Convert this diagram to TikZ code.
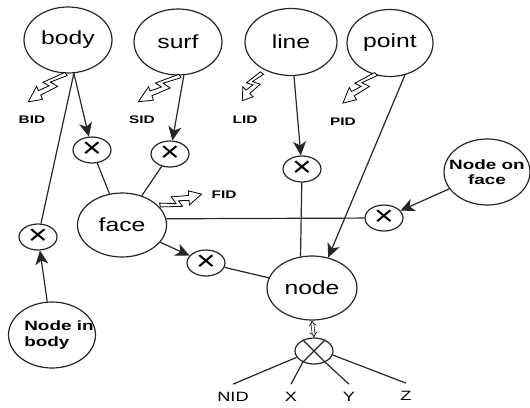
\documentclass[tikz,border=0pt]{standalone}
\usepackage{fontspec}
\setmainfont{Liberation Sans}
\usepackage{graphicx}
\usetikzlibrary{arrows.meta,shapes.geometric}
\newcommand{\sx}[2][1.4]{\scalebox{#1}[1]{#2}}
\tikzset{
  big/.style={ellipse,draw=black!85,line width=1.2pt,inner sep=0pt,minimum width=88pt,minimum height=66pt,font=\fontsize{19}{21}\selectfont},
  boldtxt/.style={font=\fontsize{13.5}{15.5}\selectfont\bfseries},
  xc/.style={ellipse,draw=black!85,line width=1.2pt,inner sep=0pt,minimum width=38pt,minimum height=26pt,font=\fontsize{28}{28}\selectfont},
  idl/.style={font=\fontsize{11}{12}\selectfont\bfseries,inner sep=1pt},
  axl/.style={font=\fontsize{13.5}{14}\selectfont,inner xsep=1pt,inner ysep=8pt},
  ln/.style={line width=1.2pt,draw=black!85},
  arr/.style={ln,-{Stealth[length=14pt,width=13pt,inset=4pt]}},
  dbl/.style={line width=0.6pt,double distance=2.2pt,{Implies}-{Implies}},
  pics/bolt/.style={code={\draw[line width=0.8pt,fill=white,line join=miter]
    (0,2) -- (0.50*#1,7) -- (0.44*#1,0.5) -- (0.68*#1,3) -- (0.66*#1,7.5) -- (#1,0)
    -- (0.72*#1,-6.5) -- (0.70*#1,-2) -- (0.30*#1,-5) -- (0.37*#1,2.8) -- (0,-2) -- cycle;}}
}
\begin{document}
\begin{tikzpicture}[x=1pt,y=-1pt]
\useasboundingbox (0,0) rectangle (530,407);
% main ellipses
\node[big] (body) at (68,40) {\sx[1.3]{body}};
\node[big] (surf) at (178,42) {\sx[1.3]{surf}};
\node[big,minimum width=92pt,minimum height=67pt] (line) at (291,42) {\sx[1.3]{line}};
\node[big,minimum width=86pt,minimum height=67pt] (point) at (390,43) {\sx[1.3]{point}};
\node[big,minimum width=89pt,minimum height=64pt] (face) at (122,225) {\sx[1.3]{face}};
\node[big,minimum width=90pt,minimum height=64pt] (nd) at (312,288) {\sx[1.3]{node}};
\node[big,minimum width=86pt,label={[boldtxt,align=center]center:\sx{Node on}\\\sx{face}}] (nof) at (487,172) {};
\node[big,minimum width=87pt,label={[boldtxt,align=left,xshift=7pt]center:\sx{Node in}\\\sx{body}}] (nib) at (52,335) {};
% cross circles
\node[xc] (c1) at (92,150) {\sx[1.2]{×}};
\node[xc] (c2) at (170,154) {\sx[1.2]{×}};
\node[xc] (c3) at (302,169) {\sx[1.2]{×}};
\node[xc] (c4) at (38,237) {\sx[1.2]{×}};
\node[xc] (c5) at (206,263) {\sx[1.2]{×}};
\node[xc] (c6) at (384,218) {\sx[1.2]{×}};
\node[xc] (c7) at (314,351) {};
% id labels
\node[idl] (bid) at (32,120) {\sx{BID}};
\node[idl] (sid) at (142,120) {\sx{SID}};
\node[idl] (lid) at (245,120) {\sx{LID}};
\node[idl] (pid) at (343,122) {\sx{PID}};
\node[idl] (fid) at (224,195) {\sx{FID}};
% axis labels
\node[axl] (nid) at (233,397) {\sx[1.35]{NID}};
\node[axl] (xl) at (291,397) {\sx[1.35]{X}};
\node[axl] (yl) at (349,397) {\sx[1.35]{Y}};
\node[axl] (zl) at (406,396) {\sx[1.35]{Z}};
% connectors
\draw[arr] (body.-80) -- (c1);
\draw[ln] (body.-80) -- (c4);
\draw[arr] (nib) -- (c4);
\draw[ln] (c1) -- (face);
\draw[arr] (surf.-80) -- (c2);
\draw[ln] (c2) -- (face);
\draw[arr] (face) -- (c5);
\draw[ln] (c5) -- (nd);
\draw[ln] (face.8) -- (c6);
\draw[arr] (line.-85) -- (c3);
\draw[ln] (c3) -- (nd.110);
\draw[arr] (point.-65) -- (nd.62);
\draw[arr] (nof) -- (c6);
\draw[dbl] (nd.south) -- (c7.north);
% crossed circle and its outputs
\draw[ln] (c7.45) -- (c7.-135);
\draw[ln] (c7.135) -- (c7.-45);
\draw[ln] (c7.200) -- (nid.north);
\draw[ln] (c7.-135) -- (xl.north);
\draw[ln] (c7.-45) -- (yl.north);
\draw[ln] (c7.-12) -- (zl.north);
% lightning id arrows
\pic[rotate=216.4] at (66,74) {bolt=47};
\pic[rotate=211.8] at (180,76) {bolt=49};
\pic[rotate=234.5] at (262,73) {bolt=34};
\pic[rotate=221.3] at (376,74) {bolt=44};
\pic[rotate=14.7] at (160,205) {bolt=43};
\end{tikzpicture}
\end{document}
